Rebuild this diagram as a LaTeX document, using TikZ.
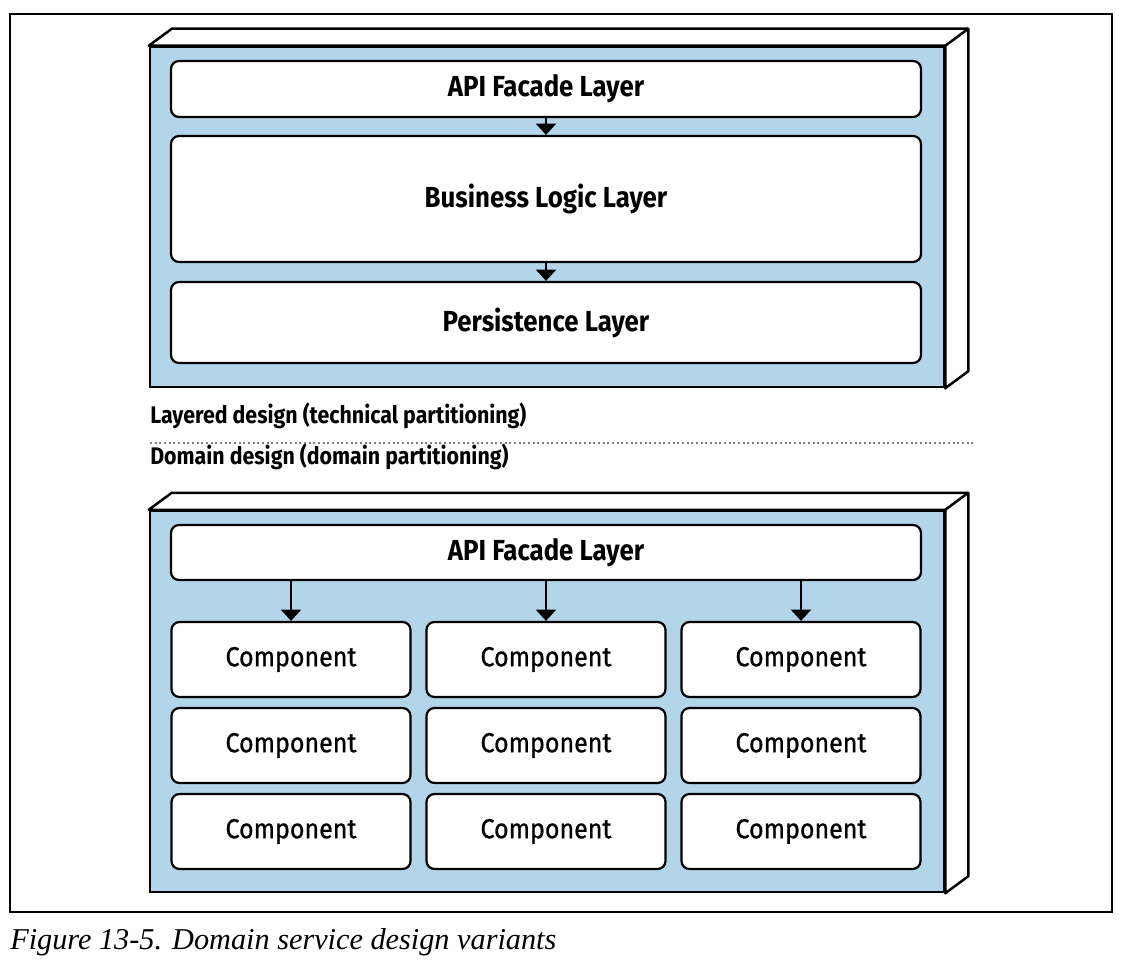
\documentclass[tikz,border=0pt]{standalone}
\usepackage{fontspec}
\usetikzlibrary{arrows.meta, calc}
\newfontfamily\figsans[FakeStretch=0.89]{Fira Sans}
\newfontfamily\figsansmed[FakeStretch=0.91, FakeBold=0.8]{Fira Sans}
\newfontfamily\capserif{Liberation Serif}
\definecolor{layerblue}{RGB}{179,213,234}
\newdimen\unitpx \unitpx=0.75pt
\newcommand{\colgap}{255}
\newcommand{\rowgap}{86}
\newcommand{\serviceBox}[1]{ % arg = name of the front face node
	\draw[line width=2.5\unitpx, fill=white, line join=round] (#1.north west) -- ++(23,-17) -- ($(#1.north east)+(23,-17)$) -- ($(#1.south east)+(23,-17)$) -- (#1.south east) -- (#1.north east) -- cycle; % top and side faces
	\draw[line width=2.5\unitpx] (#1.north east) -- ++(23,-17); % front edge of the depth
}

\begin{document}
\begin{tikzpicture}[x=1\unitpx, y=-1\unitpx,
	front/.style={draw, fill=layerblue, line width=2.5\unitpx, inner sep=0pt},
	layer/.style={draw, fill=white, rounded corners=8\unitpx, line width=2.2\unitpx, inner sep=0pt, minimum width=750\unitpx, font=\figsans\bfseries\fontsize{21.75}{24}\selectfont},
	component/.style={layer, minimum width=239\unitpx, minimum height=75\unitpx, font=\figsansmed\fontsize{20.6}{24}\selectfont},
	section/.style={anchor=base west, inner sep=0pt, font=\figsans\bfseries\fontsize{18}{22}\selectfont},
	flow/.style={-{Triangle[width=15pt, length=8.5pt]}, line width=1.9pt}]
	\useasboundingbox (0,0) rectangle (1126,966);
	\draw[line width=1.5\unitpx] (10,14) rectangle (1112,912); % frame
	% layered design
	\node[front, minimum width=794\unitpx, minimum height=340\unitpx] (layered) at (547,217) {};
	\serviceBox{layered}
	\node[layer, minimum height=56\unitpx] (api1) at (546,89) {API Facade Layer};
	\node[layer, minimum height=126\unitpx] (logic) at (546,199) {Business Logic Layer};
	\node[layer, minimum height=81\unitpx] (persist) at (546,322.5) {Persistence Layer};
	\draw[flow] (api1) -- (logic);
	\draw[flow] (logic) -- (persist);
	% separator
	\node[section] (techlabel) at (150,423) {Layered design (technical partitioning)};
	\node[section] (domlabel) at (150,464) {Domain design (domain partitioning)};
	\coordinate (sepl) at (150,443);
	\coordinate (sepr) at (974,443);
	\draw[gray, line width=1.1pt, dash pattern=on 1.5pt off 2pt] (sepl) -- (sepr);
	% domain design
	\node[front, minimum width=794\unitpx, minimum height=381\unitpx] (domain) at (547,701.5) {};
	\serviceBox{domain}
	\node[layer, minimum height=55\unitpx] (api2) at (546,552.5) {API Facade Layer};
	\foreach \r in {0,1,2} {
		\foreach \c in {0,1,2} {
			\node[component] (c\r\c) at (291+\c*\colgap, 659.5+\r*\rowgap) {Component};
		};
	};
	\foreach \c in {0,1,2} {
		\draw[flow] (api2.south -| c0\c.north) -- (c0\c.north);
	};
	% caption
	\node[anchor=base west, inner sep=0pt, font=\capserif\itshape\fontsize{22.7}{26}\selectfont] (caption) at (10,949.3) {Figure 13-5. Domain service design variants};
\end{tikzpicture}
\end{document}
